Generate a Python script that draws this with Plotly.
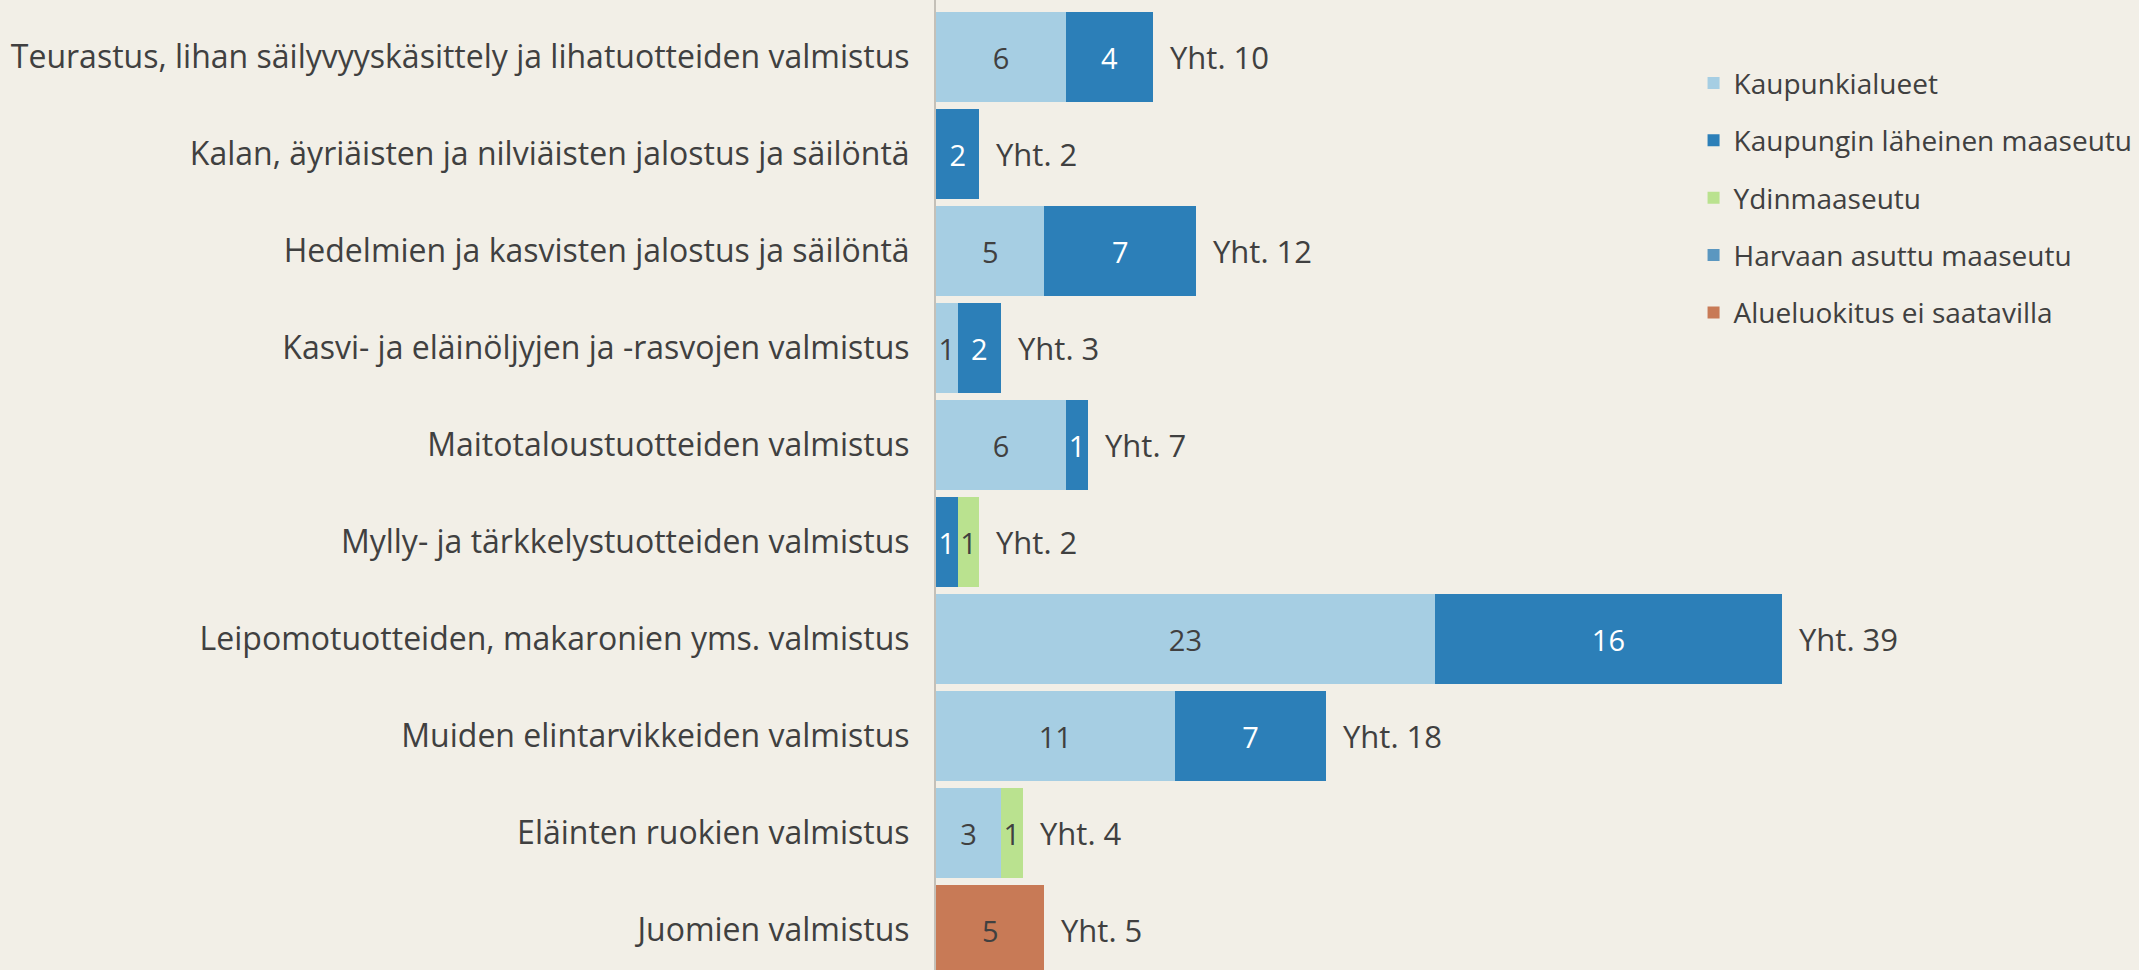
import plotly.graph_objects as go

categories = [
    "Teurastus, lihan säilyvyyskäsittely ja lihatuotteiden valmistus",
    "Kalan, äyriäisten ja nilviäisten jalostus ja säilöntä",
    "Hedelmien ja kasvisten jalostus ja säilöntä",
    "Kasvi- ja eläinöljyjen ja -rasvojen valmistus",
    "Maitotaloustuotteiden valmistus",
    "Mylly- ja tärkkelystuotteiden valmistus",
    "Leipomotuotteiden, makaronien yms. valmistus",
    "Muiden elintarvikkeiden valmistus",
    "Eläinten ruokien valmistus",
    "Juomien valmistus",
]
kaupunkialueet = [6, 0, 5, 1, 6, 0, 23, 11, 3, 0]
kaupungin_laheinen = [4, 2, 7, 2, 1, 1, 16, 7, 0, 0]
ydinmaaseutu = [0, 0, 0, 0, 0, 1, 0, 0, 1, 0]
harvaan_asuttu = [0, 0, 0, 0, 0, 0, 0, 0, 0, 0]
ei_saatavilla = [0, 0, 0, 0, 0, 0, 0, 0, 0, 5]

series = [
    ("Kaupunkialueet", kaupunkialueet, "#A6CEE3", "#404040"),
    ("Kaupungin läheinen maaseutu", kaupungin_laheinen, "#2C7FB8", "#FFFFFF"),
    ("Ydinmaaseutu", ydinmaaseutu, "#BAE28F", "#404040"),
    ("Harvaan asuttu maaseutu", harvaan_asuttu, "#5B97C0", "#FFFFFF"),
    ("Alueluokitus ei saatavilla", ei_saatavilla, "#C87A56", "#404040"),
]

FONT = "Open Sans"
fig = go.Figure()
for i, (name, vals, color, tcol) in enumerate(series):
    fig.add_trace(go.Bar(
        y=categories, x=vals, orientation="h", name=name,
        marker=dict(color=color, line=dict(width=0)),
        text=[str(v) if v else "" for v in vals],
        textposition="inside", insidetextanchor="middle", textangle=0,
        constraintext="none",
        insidetextfont=dict(family=FONT, size=29, color=tcol),
        legendgroup=f"g{i}",
    ))

totals = [sum(t) for t in zip(kaupunkialueet, kaupungin_laheinen, ydinmaaseutu, harvaan_asuttu, ei_saatavilla)]
for cat, tot in zip(categories, totals):
    fig.add_annotation(x=tot, y=cat, text=f"Yht. {tot}", showarrow=False,
                       xanchor="left", xshift=15,
                       font=dict(family=FONT, size=31, color="#404040"))

fig.update_layout(
    width=2139, height=970,
    barmode="stack", bargap=0.07,
    paper_bgcolor="#F2EFE7", plot_bgcolor="#F2EFE7",
    margin=dict(l=936, r=10, t=0, b=0),
    font=dict(family=FONT, color="#404040"),
    xaxis=dict(range=[0, 55], showgrid=False, zeroline=False, showticklabels=False, ticks=""),
    yaxis=dict(categoryorder="array", categoryarray=categories,
               range=[9.41, -0.588], showgrid=False, zeroline=False,
               showline=True, linecolor="#C4C0B8", linewidth=2,
               ticks="", ticklabelstandoff=18,
               tickfont=dict(family=FONT, size=32, color="#404040")),
    legend=dict(x=0.635, y=0.94, xanchor="left", yanchor="top",
                font=dict(family=FONT, size=28, color="#404040"),
                tracegroupgap=18, bgcolor="rgba(0,0,0,0)"),
    showlegend=True,
)
fig.write_html("out.html")
